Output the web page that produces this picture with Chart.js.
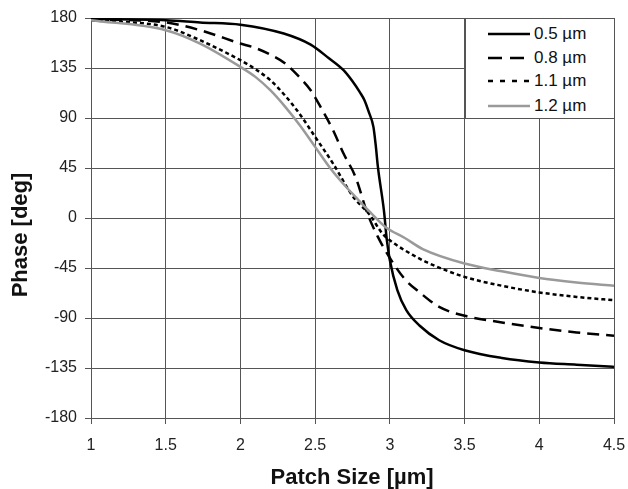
<!DOCTYPE html>
<html>
<head>
<meta charset="utf-8">
<script src="https://cdn.jsdelivr.net/npm/chart.js@4.4.1/dist/chart.umd.min.js"></script>
<style>
  html, body { margin: 0; padding: 0; background: #fff; }
  #wrap { position: relative; width: 628px; height: 489px; }
  #legend { position: absolute; background: #fff; border: 1px solid #555; box-sizing: border-box;
            font-family: "Liberation Sans", Arial, sans-serif; font-size: 17px; color: #111; }
  #legend .item { position: absolute; left: 0; height: 22px; display: flex; align-items: center; }
  #legend svg { display: block; flex: none; }
</style>
</head>
<body>
<div id="wrap">
  <canvas id="c" width="628" height="489"></canvas>
  <div id="legend"></div>
</div>
<script>
// ---- data ----
const seriesLabels = ["0.5 \u00b5m", "0.8 \u00b5m", "1.1 \u00b5m", "1.2 \u00b5m"];
const xTitle = "Patch Size [\u00b5m]";
const yTitle = "Phase [deg]";

const x05 = [1, 1.5, 1.73, 2, 2.29, 2.47, 2.59, 2.69, 2.75, 2.8, 2.83, 2.86, 2.89, 2.905, 2.92, 2.96, 2.98, 3.0, 3.05, 3.11, 3.2, 3.33, 3.5, 3.75, 4, 4.25, 4.5];
const y05 = [179, 178, 176, 174, 166, 156, 144, 133, 123, 113, 106, 95, 82, 66, 46, 7, -20, -38, -65, -83, -97, -110, -119, -126, -130, -132, -134];

const x08 = [1, 1.5, 1.73, 2, 2.1, 2.2, 2.3, 2.4, 2.47, 2.54, 2.62, 2.69, 2.77, 2.85, 2.92, 3.0, 3.1, 3.2, 3.33, 3.5, 3.75, 4, 4.25, 4.5];
const y08 = [179, 176, 169, 157, 153, 147, 139, 126, 115, 99, 79, 58, 37, 4, -17, -36, -55, -67, -80, -88, -94, -99, -103, -106];

const x11 = [1, 1.5, 1.73, 2, 2.1, 2.2, 2.3, 2.4, 2.5, 2.62, 2.75, 2.87, 2.95, 3.03, 3.15, 3.25, 3.5, 3.75, 4, 4.25, 4.5];
const y11 = [178, 172, 160, 142, 134, 124, 110, 93, 73, 49, 20, 2, -14, -23, -33, -40, -53, -61, -67, -71, -74];

const x12 = [1, 1.5, 1.73, 2, 2.1, 2.2, 2.3, 2.4, 2.5, 2.6, 2.7, 2.77, 2.87, 2.97, 3.1, 3.22, 3.5, 3.75, 4, 4.25, 4.5];
const y12 = [178, 169, 157, 136, 127, 115, 100, 83, 64, 45, 29, 19, 5, -8, -18, -28, -41, -48, -54, -58, -61];

const xTicksMin = 1, xTicksMax = 4.5, xStep = 0.5;
const yTicksMin = -180, yTicksMax = 180, yStep = 45;

// ---- styles ----
const styles = [
  { color: "#000000", dash: [], width: 2.5 },
  { color: "#000000", dash: [12, 7], width: 2.5 },
  { color: "#000000", dash: [4, 3], width: 2.5 },
  { color: "#9a9a9a", dash: [], width: 2.5 }
];

function pts(xs, ys) { return xs.map((x, i) => ({ x: x, y: ys[i] })); }
const allData = [pts(x05, y05), pts(x08, y08), pts(x11, y11), pts(x12, y12)];

const datasets = allData.map((d, i) => ({
  label: seriesLabels[i],
  data: d,
  borderColor: styles[i].color,
  borderDash: styles[i].dash,
  borderWidth: styles[i].width,
  pointRadius: 0,
  fill: false,
  cubicInterpolationMode: "monotone",
  order: 4 - i
}));

const gridColor = "#555555";
const font = "'Liberation Sans', Arial, sans-serif";

const axisTitles = {
  id: "axisTitles",
  afterDraw(chart) {
    const ctx = chart.ctx;
    ctx.save();
    ctx.fillStyle = "#111";
    ctx.font = "bold 22px " + font;
    ctx.textAlign = "center";
    ctx.textBaseline = "middle";
    ctx.fillText(xTitle, 352, 478);
    ctx.translate(21, 235);
    ctx.rotate(-Math.PI / 2);
    ctx.fillText(yTitle, 0, 0);
    ctx.restore();
  }
};

const chart = new Chart(document.getElementById("c"), {
  type: "line",
  data: { datasets: datasets },
  plugins: [axisTitles],
  options: {
    responsive: false,
    animation: false,
    devicePixelRatio: 1,
    layout: { padding: { left: 0, right: 0, top: 18, bottom: 0 } },
    plugins: { legend: { display: false }, tooltip: { enabled: false } },
    scales: {
      x: {
        type: "linear",
        min: xTicksMin, max: xTicksMax,
        ticks: { stepSize: xStep, font: { family: font, size: 16 }, color: "#222", padding: 12,
                 callback: (v) => String(v) },
        grid: { color: gridColor, lineWidth: 1, tickLength: 6 },
        border: { color: gridColor },
        afterFit: (s) => { s.height = 71; s.paddingRight = 14; s.paddingLeft = 0; }
      },
      y: {
        min: yTicksMin, max: yTicksMax,
        ticks: { stepSize: yStep, font: { family: font, size: 16 }, color: "#222", padding: 8 },
        grid: { color: gridColor, lineWidth: 1, tickLength: 6 },
        border: { color: gridColor },
        afterFit: (s) => { s.width = 91; }
      }
    }
  }
});

// ---- HTML legend inside plot area (top-right) ----
(function buildLegend() {
  const ca = chart.chartArea;
  const lg = document.getElementById("legend");
  const w = 150, h = 101;
  lg.style.left = (ca.right - w + 1) + "px";
  lg.style.top = ca.top + "px";
  lg.style.width = w + "px";
  lg.style.height = h + "px";
  const rowCenters = [15, 39, 62, 87];
  seriesLabels.forEach((lab, i) => {
    const it = document.createElement("div");
    it.className = "item";
    it.style.top = (rowCenters[i] - 11) + "px";
    it.style.left = "22px";
    const svgNS = "http://www.w3.org/2000/svg";
    const svg = document.createElementNS(svgNS, "svg");
    svg.setAttribute("width", "44");
    svg.setAttribute("height", "10");
    const ln = document.createElementNS(svgNS, "line");
    ln.setAttribute("x1", "0"); ln.setAttribute("x2", "42");
    ln.setAttribute("y1", "5"); ln.setAttribute("y2", "5");
    ln.setAttribute("stroke", styles[i].color);
    ln.setAttribute("stroke-width", styles[i].width);
    if (styles[i].dash.length) ln.setAttribute("stroke-dasharray", i === 1 ? "14,8" : "5,7");
    svg.appendChild(ln);
    const span = document.createElement("span");
    span.textContent = lab;
    span.style.marginLeft = "2px";
    it.appendChild(svg);
    it.appendChild(span);
    lg.appendChild(it);
  });
})();
</script>
</body>
</html>
